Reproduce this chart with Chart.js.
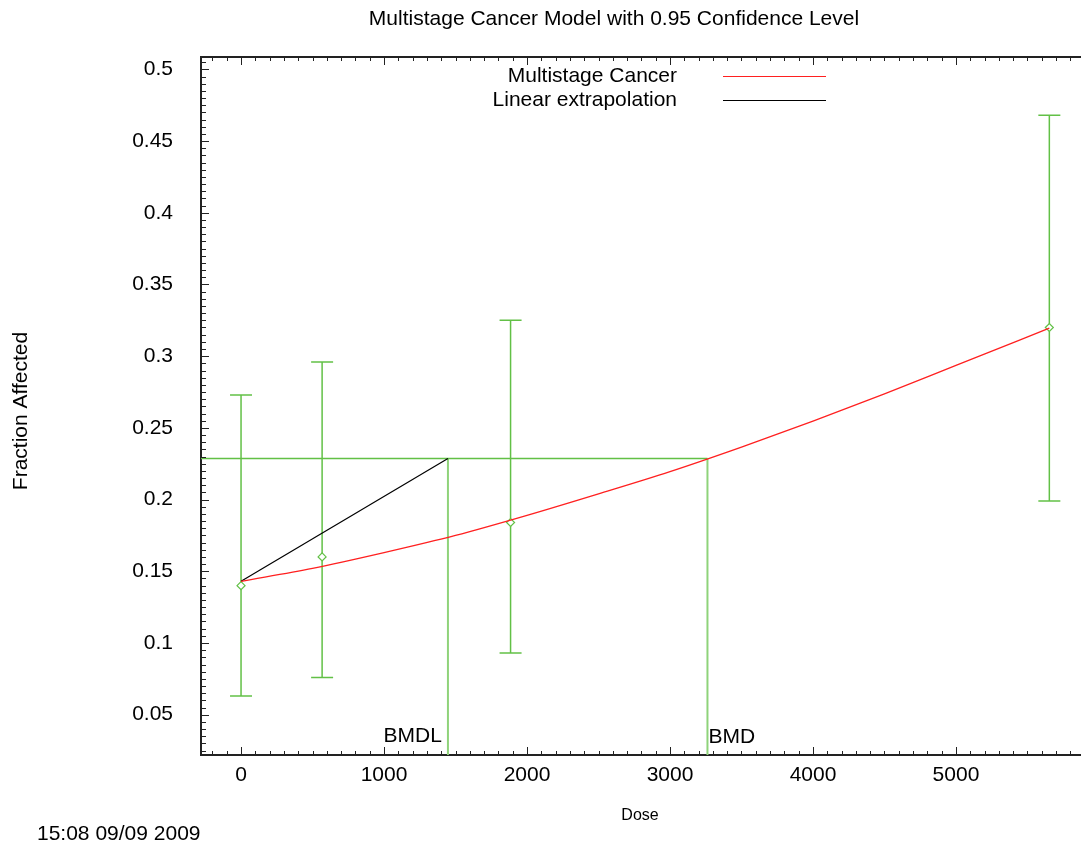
<!DOCTYPE html>
<html>
<head>
<meta charset="utf-8">
<script src="https://cdn.jsdelivr.net/npm/chart.js@4.4.0/dist/chart.umd.min.js"></script>
<style>
  html, body { margin: 0; padding: 0; background: #fff; overflow: hidden; }
  canvas { display: block; }
</style>
</head>
<body>
<canvas id="chart" width="1087" height="848"></canvas>
<script>
'use strict';

// observed dose groups with 95% limits
let doses = [0, 567, 1885, 5653];
let fractionAffected = [0.14, 0.16, 0.184, 0.32];
let lowerLimits = [0.063, 0.076, 0.093, 0.199];
let upperLimits = [0.273, 0.296, 0.325, 0.468];

// fitted multistage curve
let modelDoses = [0, 500, 1000, 1500, 2000, 2500, 3000, 3500, 4000, 4500, 5000, 5653];
let modelFractions = [0.143, 0.152, 0.163, 0.175, 0.189, 0.204, 0.2195, 0.2366, 0.2547, 0.2737, 0.2936, 0.3195];

// benchmark dose lines
let bmrLevel = 0.2287;
let bmdl = 1447;
let bmd = 3262;

// axis ranges and ticks
let xMin = -280;
let xMax = 5880;
let yMin = 0.0219;
let yMax = 0.5086;
let xTickValues = [0, 1000, 2000, 3000, 4000, 5000];
let yTickValues = [0.05, 0.1, 0.15, 0.2, 0.25, 0.3, 0.35, 0.4, 0.45, 0.5];
let xMinorStep = 100;
let yMinorStep = 0.005;

let titleText = 'Multistage Cancer Model with 0.95 Confidence Level';
let xTitle = 'Dose';
let yTitle = 'Fraction Affected';
let timestamp = '15:08 09/09 2009';

let fontFamily = "'Liberation Sans', Arial, sans-serif";
let green = '#62c046';
let lightGreen = '#8fd37a';

function toPoints(xs, ys) {
  let points = [];
  for (let i = 0; i < xs.length; i++) {
    points.push({ x: xs[i], y: ys[i] });
  }
  return points;
}

function toTicks(values) {
  return values.map((v) => ({ value: v }));
}

function line(ctx, x1, y1, x2, y2) {
  ctx.beginPath();
  ctx.moveTo(x1, y1);
  ctx.lineTo(x2, y2);
  ctx.stroke();
}

function isMajor(value, majors) {
  return majors.some((m) => Math.abs(m - value) < 1e-9);
}

// gnuplot-like inward tick marks plus top border
let tickPlugin = {
  id: 'tickMarks',
  afterDraw(chart) {
    let ctx = chart.ctx;
    let area = chart.chartArea;
    let xs = chart.scales.x;
    let ys = chart.scales.y;
    ctx.save();
    ctx.strokeStyle = '#222';
    ctx.lineWidth = 2;
    line(ctx, area.left, area.top, area.right, area.top);
    ctx.lineWidth = 1;
    for (let k = Math.ceil(xMin / xMinorStep); k * xMinorStep <= xMax; k++) {
      let v = k * xMinorStep;
      let px = Math.round(xs.getPixelForValue(v)) + 0.5;
      let major = isMajor(v, xTickValues);
      line(ctx, px, area.bottom, px, area.bottom - (major ? 8 : 4));
      line(ctx, px, area.top, px, area.top + (major ? 8 : 4));
    }
    for (let k = Math.ceil(yMin / yMinorStep); k * yMinorStep <= yMax; k++) {
      let v = k * yMinorStep;
      let py = Math.round(ys.getPixelForValue(v)) + 0.5;
      let major = isMajor(v, yTickValues);
      line(ctx, area.left, py, area.left + (major ? 8 : 5), py);
    }
    ctx.restore();
  },
};

// error bars from the limit arrays
let errorBarPlugin = {
  id: 'errorBars',
  beforeDatasetsDraw(chart) {
    let ctx = chart.ctx;
    let area = chart.chartArea;
    let xs = chart.scales.x;
    let ys = chart.scales.y;
    ctx.save();
    ctx.beginPath();
    ctx.rect(area.left, area.top, area.right - area.left, area.bottom - area.top);
    ctx.clip();
    ctx.strokeStyle = green;
    ctx.lineWidth = 1.5;
    for (let i = 0; i < doses.length; i++) {
      let px = xs.getPixelForValue(doses[i]);
      let top = ys.getPixelForValue(upperLimits[i]);
      let bottom = ys.getPixelForValue(lowerLimits[i]);
      line(ctx, px, top, px, bottom);
      line(ctx, px - 11, top, px + 11, top);
      line(ctx, px - 11, bottom, px + 11, bottom);
    }
    ctx.restore();
  },
};

// title, legend, axis titles and labels
let textPlugin = {
  id: 'texts',
  afterDraw(chart) {
    let ctx = chart.ctx;
    let xs = chart.scales.x;
    ctx.save();
    ctx.fillStyle = '#000';
    ctx.textBaseline = 'middle';

    ctx.font = '21px ' + fontFamily;
    ctx.textAlign = 'center';
    ctx.fillText(titleText, 614, 19);

    let datasets = chart.data.datasets;
    for (let i = 0; i < 2; i++) {
      let rowY = 76 + i * 24;
      ctx.textAlign = 'right';
      ctx.fillText(datasets[i].label, 677, rowY);
      ctx.strokeStyle = datasets[i].borderColor;
      ctx.lineWidth = 1.2;
      line(ctx, 723, rowY + 0.5, 826, rowY + 0.5);
    }

    ctx.textAlign = 'left';
    ctx.fillText(timestamp, 37, 834);

    ctx.textBaseline = 'alphabetic';
    ctx.textAlign = 'right';
    ctx.fillText('BMDL', xs.getPixelForValue(bmdl) - 6, 742);
    ctx.textAlign = 'left';
    ctx.fillText('BMD', xs.getPixelForValue(bmd) + 1, 743);

    ctx.textBaseline = 'middle';
    ctx.font = '16px ' + fontFamily;
    ctx.textAlign = 'center';
    ctx.fillText(xTitle, 640, 816);

    ctx.font = '21px ' + fontFamily;
    ctx.translate(21, 411);
    ctx.rotate(-Math.PI / 2);
    ctx.fillText(yTitle, 0, 0);
    ctx.restore();
  },
};

let chartConfig = {
  type: 'scatter',
  data: {
    datasets: [
      {
        label: 'Multistage Cancer',
        data: toPoints(modelDoses, modelFractions),
        showLine: true,
        borderColor: '#ff2020',
        borderWidth: 1.3,
        pointRadius: 0,
        cubicInterpolationMode: 'monotone',
      },
      {
        label: 'Linear extrapolation',
        data: [{ x: 0, y: modelFractions[0] }, { x: bmdl, y: bmrLevel }],
        showLine: true,
        borderColor: '#000000',
        borderWidth: 1.2,
        pointRadius: 0,
      },
      {
        label: 'Observed',
        data: toPoints(doses, fractionAffected),
        showLine: false,
        pointStyle: 'rectRot',
        pointRadius: 4,
        pointBorderWidth: 1.2,
        borderColor: green,
        backgroundColor: 'rgba(255,255,255,1)',
      },
      {
        label: 'BMR',
        data: [{ x: xMin, y: bmrLevel }, { x: bmd, y: bmrLevel }],
        showLine: true,
        borderColor: green,
        borderWidth: 1.5,
        pointRadius: 0,
      },
      {
        label: 'BMDL line',
        data: [{ x: bmdl, y: yMin }, { x: bmdl, y: bmrLevel }],
        showLine: true,
        borderColor: lightGreen,
        borderWidth: 2,
        pointRadius: 0,
      },
      {
        label: 'BMD line',
        data: [{ x: bmd, y: yMin }, { x: bmd, y: bmrLevel }],
        showLine: true,
        borderColor: lightGreen,
        borderWidth: 2,
        pointRadius: 0,
      },
    ],
  },
  options: {
    responsive: false,
    animation: false,
    devicePixelRatio: 1,
    layout: {
      padding: { left: 110, top: 57, right: 0, bottom: 0 },
    },
    plugins: {
      legend: { display: false },
      tooltip: { enabled: false },
      title: { display: false },
    },
    scales: {
      x: {
        type: 'linear',
        min: xMin,
        max: xMax,
        afterBuildTicks: (scale) => { scale.ticks = toTicks(xTickValues); },
        afterFit: (scale) => {
          scale.height = 93;
          scale.paddingLeft = 0;
          scale.paddingRight = 0;
        },
        grid: { display: false, drawTicks: false },
        border: { display: true, color: '#222', width: 2 },
        ticks: {
          autoSkip: false,
          maxRotation: 0,
          padding: 8,
          color: '#000',
          font: { family: fontFamily, size: 21 },
          callback: (value) => String(value),
        },
      },
      y: {
        type: 'linear',
        min: yMin,
        max: yMax,
        afterBuildTicks: (scale) => { scale.ticks = toTicks(yTickValues); },
        afterFit: (scale) => { scale.width = 91; },
        grid: { display: false, drawTicks: false },
        border: { display: true, color: '#222', width: 2 },
        ticks: {
          autoSkip: false,
          crossAlign: 'near',
          padding: 28,
          color: '#000',
          font: { family: fontFamily, size: 21 },
          callback: (value) => String(Math.round(value * 100) / 100),
        },
      },
    },
  },
  plugins: [errorBarPlugin, tickPlugin, textPlugin],
};

let chart = new Chart(document.getElementById('chart'), chartConfig);
</script>
</body>
</html>
